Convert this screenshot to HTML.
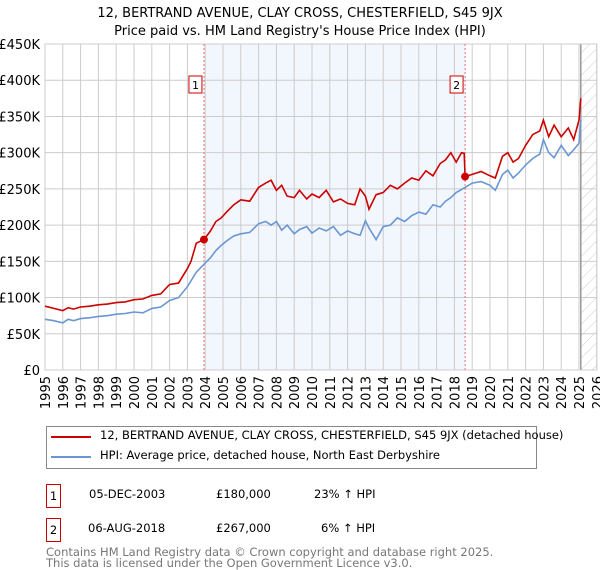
<!DOCTYPE html>
<html><head><meta charset="utf-8"><style>
body{margin:0;width:600px;height:560px;background:#fff;font-family:"DejaVu Sans","Liberation Sans",sans-serif;overflow:hidden;position:relative}
.t{position:absolute;white-space:nowrap}
</style></head><body>
<svg id="chart" width="600" height="560" style="position:absolute;left:0;top:0" font-family="DejaVu Sans, Liberation Sans, sans-serif">
<defs><pattern id="hatch" width="8" height="8" patternUnits="userSpaceOnUse" patternTransform="rotate(45)"><line x1="0" y1="0" x2="0" y2="8" stroke="#ccc" stroke-width="1"/></pattern></defs>
<text x="300" y="17" text-anchor="middle" font-size="13">12, BERTRAND AVENUE, CLAY CROSS, CHESTERFIELD, S45 9JX</text>
<text x="300" y="35" text-anchor="middle" font-size="13">Price paid vs. HM Land Registry's House Price Index (HPI)</text>
<g id="plot"></g>
</svg>
<div class="t" style="left:46px;top:426px;width:489px;height:41px;border:1px solid #888"></div>
<div class="t" style="left:51px;top:436px;width:40px;height:2px;background:#cc0000"></div>
<div class="t" style="left:100px;top:428px;font-size:11.5px">12, BERTRAND AVENUE, CLAY CROSS, CHESTERFIELD, S45 9JX (detached house)</div>
<div class="t" style="left:51px;top:456px;width:40px;height:2px;background:#6a97d4"></div>
<div class="t" style="left:100px;top:448px;font-size:11.5px">HPI: Average price, detached house, North East Derbyshire</div>
<div class="t" style="left:46px;top:484px;width:13px;height:22px;border:1px solid #cc0000;font-size:11.5px;text-align:center;line-height:22px">1</div>
<div class="t" style="left:89px;top:487px;font-size:11.5px">05-DEC-2003</div>
<div class="t" style="left:216px;top:487px;font-size:11.5px">£180,000</div>
<div class="t" style="left:314px;top:487px;font-size:11.5px">23% ↑ HPI</div>
<div class="t" style="left:46px;top:518px;width:13px;height:22px;border:1px solid #cc0000;font-size:11.5px;text-align:center;line-height:22px">2</div>
<div class="t" style="left:88px;top:521px;font-size:11.5px">06-AUG-2018</div>
<div class="t" style="left:216px;top:521px;font-size:11.5px">£267,000</div>
<div class="t" style="left:321px;top:521px;font-size:11.5px">6% ↑ HPI</div>
<div class="t" style="left:46px;top:547px;font-size:11.5px;color:#777;line-height:11px">Contains HM Land Registry data © Crown copyright and database right 2025.<br>This data is licensed under the Open Government Licence v3.0.</div>
<script>
const yTicks=[0,50,100,150,200,250,300,350,400,450];
const yTickLabels=["£0","£50K","£100K","£150K","£200K","£250K","£300K","£350K","£400K","£450K"];
const xYears=[1995,1996,1997,1998,1999,2000,2001,2002,2003,2004,2005,2006,2007,2008,2009,2010,2011,2012,2013,2014,2015,2016,2017,2018,2019,2020,2021,2022,2023,2024,2025,2026];
const redT=[1995,1995.5,1996,1996.3,1996.6,1997,1997.5,1998,1998.5,1999,1999.5,2000,2000.5,2001,2001.5,2002,2002.5,2003,2003.2,2003.5,2003.93,2004.3,2004.6,2004.9,2005.2,2005.6,2006,2006.5,2007,2007.4,2007.7,2008,2008.3,2008.6,2009,2009.3,2009.7,2010,2010.4,2010.8,2011.2,2011.6,2012,2012.4,2012.7,2013,2013.2,2013.6,2014,2014.4,2014.8,2015.2,2015.6,2016,2016.4,2016.8,2017.2,2017.5,2017.8,2018.1,2018.4,2018.55,2018.6,2019,2019.5,2020,2020.3,2020.7,2021,2021.3,2021.6,2022,2022.4,2022.8,2023,2023.3,2023.6,2024,2024.4,2024.7,2025,2025.1];
const redV=[88,85,82,86,84,87,88,90,91,93,94,97,98,103,105,118,120,140,150,175,180,192,205,210,218,228,235,233,252,258,262,248,255,240,238,248,236,243,238,248,232,236,230,228,250,240,222,242,245,255,250,258,265,262,275,268,285,290,300,287,300,299,267,270,274,268,265,295,300,287,292,310,325,330,345,322,338,322,334,318,345,375];
const blueT=[1995,1995.5,1996,1996.3,1996.6,1997,1997.5,1998,1998.5,1999,1999.5,2000,2000.5,2001,2001.5,2002,2002.5,2003,2003.5,2003.93,2004.3,2004.6,2004.9,2005.2,2005.6,2006,2006.5,2007,2007.4,2007.7,2008,2008.3,2008.6,2009,2009.3,2009.7,2010,2010.4,2010.8,2011.2,2011.6,2012,2012.4,2012.7,2013,2013.2,2013.6,2014,2014.4,2014.8,2015.2,2015.6,2016,2016.4,2016.8,2017.2,2017.5,2017.8,2018.1,2018.6,2019,2019.5,2020,2020.3,2020.7,2021,2021.3,2021.6,2022,2022.4,2022.8,2023,2023.3,2023.6,2024,2024.4,2024.7,2025,2025.1];
const blueV=[70,68,65,70,68,71,72,74,75,77,78,80,79,85,87,96,100,115,135,146,155,165,172,178,185,188,190,202,205,200,205,193,200,188,194,198,189,196,192,198,186,192,188,186,206,196,180,198,200,210,205,213,218,215,228,225,233,238,245,252,258,260,255,248,270,276,265,272,283,292,298,318,300,293,310,296,304,313,345];
const sales=[[2003.93,180],[2018.6,267]];
const x0=45,pxYear=17.8,yBase=370,pxK=326/450;
const X=t=>x0+(t-1995)*pxYear, Y=v=>yBase-v*pxK;
const NS="http://www.w3.org/2000/svg",g=document.getElementById('plot');
function mk(tag,at){const e=document.createElementNS(NS,tag);for(const k in at)e.setAttribute(k,at[k]);g.appendChild(e);return e;}
const xr=X(2026);
let e;
e=mk('rect',{x:X(2003.93),y:Y(450),width:X(2018.6)-X(2003.93),height:Y(0)-Y(450),fill:'#f2f6fd'});

e=mk('rect',{x:X(2025.1),y:Y(450),width:xr-X(2025.1),height:Y(0)-Y(450),fill:'url(#hatch)'});

yTicks.forEach((v,i)=>{
 e=mk('line',{x1:x0,x2:xr,y1:Y(v),y2:Y(v),stroke:'#ccc'});
 
 e=mk('text',{x:40,y:Y(v)+5,'text-anchor':'end','font-size':13});e.textContent=yTickLabels[i];
 
});
xYears.forEach(yr=>{
 e=mk('line',{x1:X(yr),x2:X(yr),y1:Y(0),y2:Y(450),stroke:'#ccc'});
 
 e=mk('text',{transform:`translate(${X(yr)+5},${Y(0)+6}) rotate(-90)`,'text-anchor':'end','font-size':13});e.textContent=yr;
 
});
e=mk('line',{x1:X(2025.1),x2:X(2025.1),y1:Y(0),y2:Y(450),stroke:'#999','stroke-width':1.5});

e=mk('rect',{x:x0,y:Y(450),width:xr-x0,height:Y(0)-Y(450),fill:'none',stroke:'#ccc'});

sales.forEach((s,i)=>{
 e=mk('line',{x1:X(s[0]),x2:X(s[0]),y1:Y(0),y2:Y(450),stroke:'#f07070','stroke-dasharray':'2,2'});
 
});
function path(T,V,col,name){
 e=mk('path',{d:T.map((t,i)=>(i?'L':'M')+X(t).toFixed(1)+','+Y(V[i]).toFixed(1)).join(''),fill:'none',stroke:col,'stroke-width':1.6});
 
}
path(blueT,blueV,'#6a97d4','hpi-line');
path(redT,redV,'#cc0000','price-line');
sales.forEach((s,i)=>{
 e=mk('circle',{cx:X(s[0]),cy:Y(s[1]),r:4,fill:'#cc0000'});
 
 const bx=X(s[0])-14;
 e=mk('rect',{x:bx-1,y:76,width:13,height:17,fill:'#fff',stroke:'#cc0000'});
 
 e=mk('text',{x:bx+5.5,y:89,'text-anchor':'middle','font-size':11});e.textContent=String(i+1);
 
});
</script>
</body></html>
